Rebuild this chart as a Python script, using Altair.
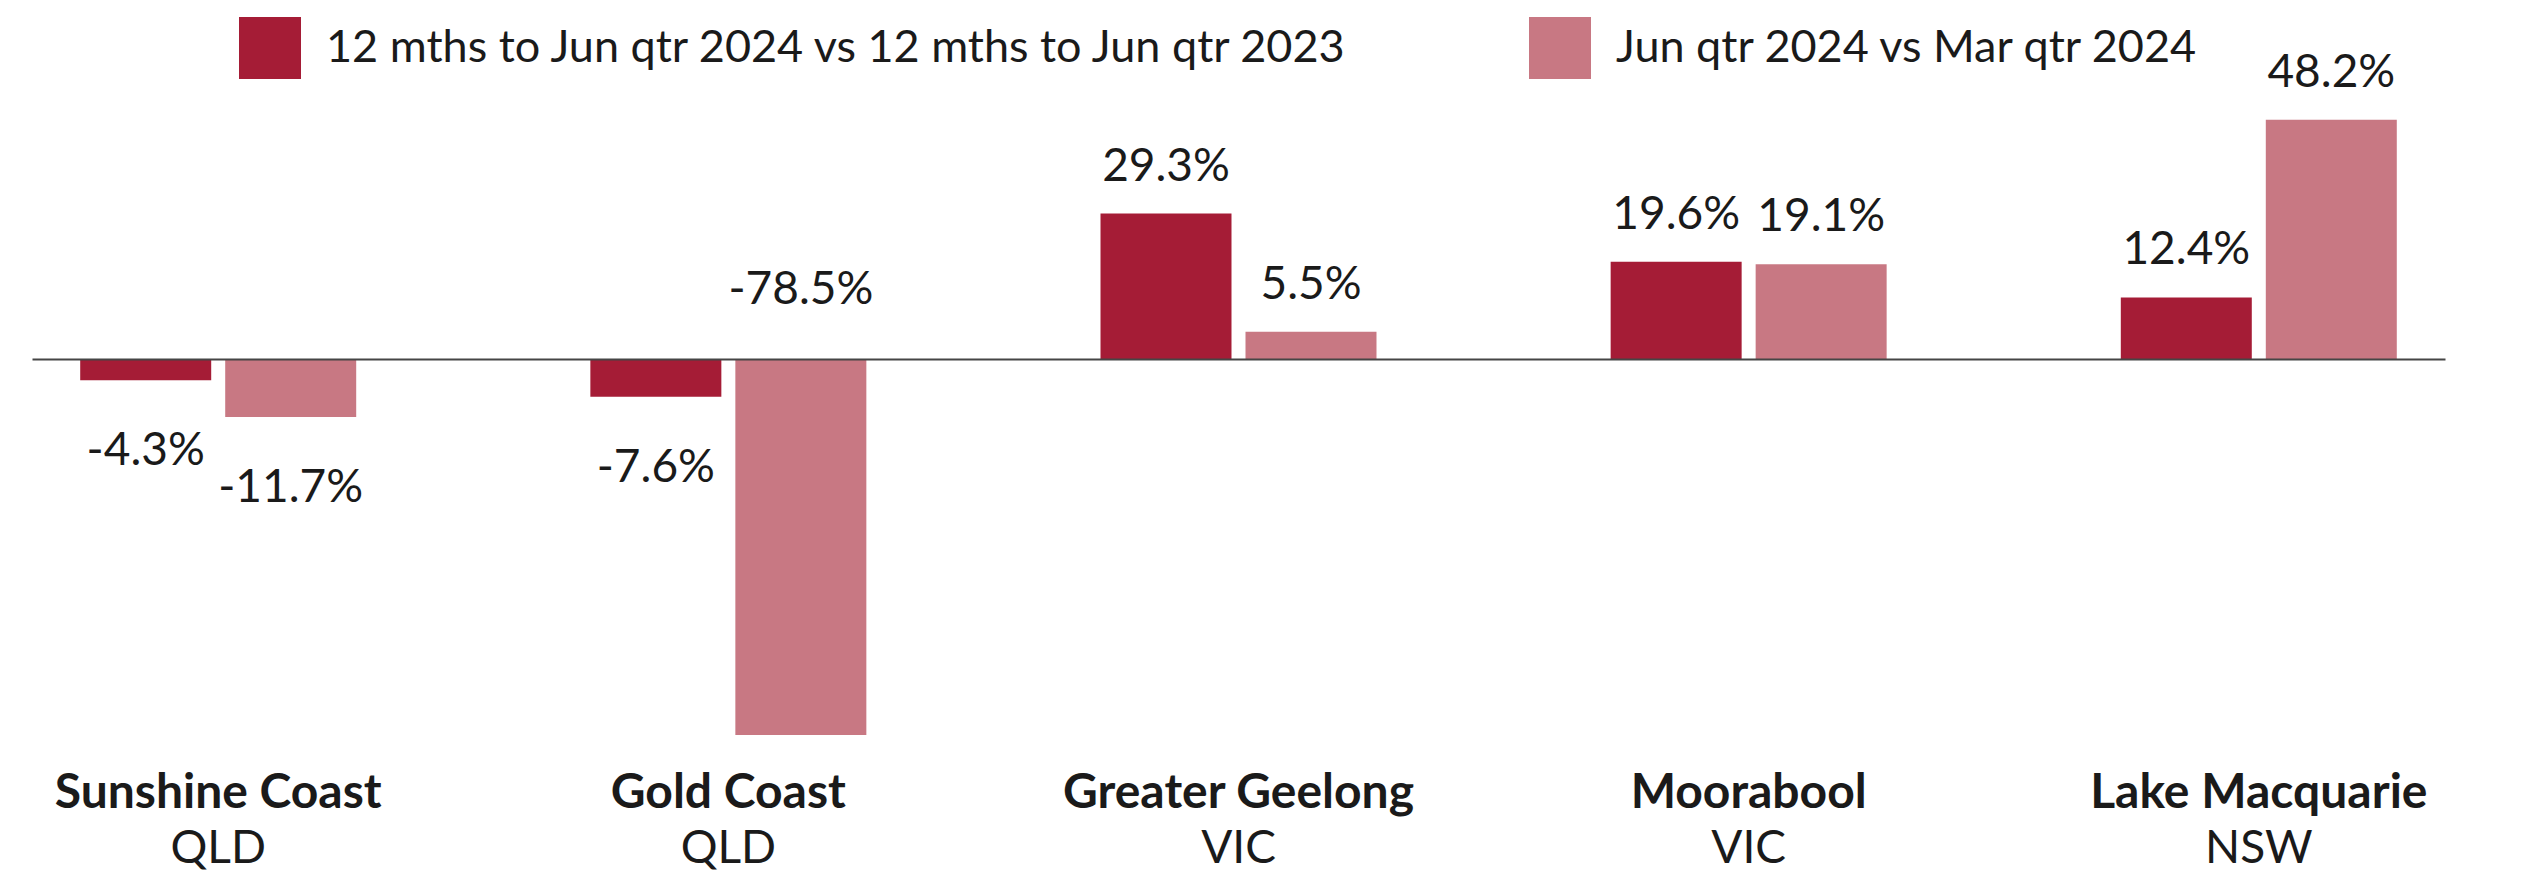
import altair as alt
import pandas as pd

regions = ["Sunshine Coast", "Gold Coast", "Greater Geelong", "Moorabool", "Lake Macquarie"]
states = ["QLD", "QLD", "VIC", "VIC", "NSW"]
series_names = [
    "12 mths to Jun qtr 2024 vs 12 mths to Jun qtr 2023",
    "Jun qtr 2024 vs Mar qtr 2024",
]
annual_change = [-4.3, -7.6, 29.3, 19.6, 12.4]
quarterly_change = [-11.7, -78.5, 5.5, 19.1, 48.2]
series_colors = ["#A51C36", "#C87883"]

keys = [f"{r}|{s}" for r, s in zip(regions, states)]
rows = []
for k, a, q in zip(keys, annual_change, quarterly_change):
    rows.append({"key": k, "series": series_names[0], "value": a, "label": f"{a:.1f}%"})
    rows.append({"key": k, "series": series_names[1], "value": q, "label": f"{q:.1f}%"})
df = pd.DataFrame(rows)

Y_MIN, Y_MAX = -75.8, 52.0
PLOT_W, PLOT_H = 2413, 634
FONT = "Lato"
TXT = "#1a1a1a"
FS = 46

x_scale = alt.Scale(paddingInner=0.459, paddingOuter=0.0945)
y_enc = alt.Y(
    "value:Q",
    scale=alt.Scale(domain=[Y_MIN, Y_MAX], nice=False),
    axis=alt.Axis(values=[0], grid=True, gridColor="#454545", gridWidth=2,
                  labels=False, ticks=False, domain=False, title=None, zindex=1),
)
xoff = alt.XOffset("series:N", sort=series_names,
                   scale=alt.Scale(paddingInner=0.0966, paddingOuter=0))
name_axis = alt.Axis(orient="bottom", title=None, domain=False, ticks=False, tickSize=0,
                     grid=False, labelExpr="split(datum.value, '|')[0]",
                     labelFont=FONT, labelFontSize=48, labelFontWeight="bold",
                     labelColor=TXT, labelBaseline="alphabetic", labelPadding=72,
                     labelAngle=0, labelLimit=1000, labelOverlap=False)
x_enc = alt.X("key:N", sort=keys, scale=x_scale, axis=name_axis)

base = alt.Chart(df)

bars = base.mark_bar(clip=True).encode(
    x=x_enc,
    xOffset=xoff,
    y=y_enc,
    color=alt.Color(
        "series:N", sort=series_names,
        scale=alt.Scale(domain=series_names, range=series_colors),
        legend=alt.Legend(
            orient="none", legendX=207, legendY=-84, direction="horizontal",
            title=None, symbolType="square", symbolSize=3844, symbolStrokeWidth=0,
            symbolOpacity=1, labelFont=FONT, labelFontSize=45, labelColor=TXT,
            labelOffset=25, labelLimit=2000, columnPadding=178, padding=0,
            labelBaseline="middle",
        ),
    ),
)

text_style = dict(font=FONT, fontSize=FS, color=TXT, baseline="alphabetic")

pos_text = base.transform_filter("datum.value >= 0").mark_text(
    dy=-33, **text_style
).encode(x=x_enc, xOffset=xoff, y=y_enc, text="label:N")

neg_text = base.transform_filter(f"datum.value < 0 && datum.value >= {Y_MIN}").mark_text(
    dy=85, **text_style
).encode(x=x_enc, xOffset=xoff, y=y_enc, text="label:N")

# bar runs past the bottom of the plot: its label sits above the zero line
clip_text = base.transform_filter(f"datum.value < {Y_MIN}").transform_calculate(
    value="0"
).mark_text(dy=-55, **text_style).encode(x=x_enc, xOffset=xoff, y=y_enc, text="label:N")

state_text = base.transform_filter(alt.datum.series == series_names[0]).transform_calculate(
    state="split(datum.key, '|')[1]"
).mark_text(**text_style).encode(x=x_enc, y=alt.value(PLOT_H + 128), text="state:N")

chart = alt.layer(bars, pos_text, neg_text, clip_text, state_text).properties(
    width=PLOT_W, height=PLOT_H,
    autosize=alt.AutoSizeParams(type="none"),
    padding={"left": 24, "top": 93, "right": 60, "bottom": 137},
).configure(
    background="white",
    view=alt.ViewConfig(stroke=None, strokeWidth=0),
)

chart.save("out.html", embed_options={"renderer": "svg", "actions": False})
